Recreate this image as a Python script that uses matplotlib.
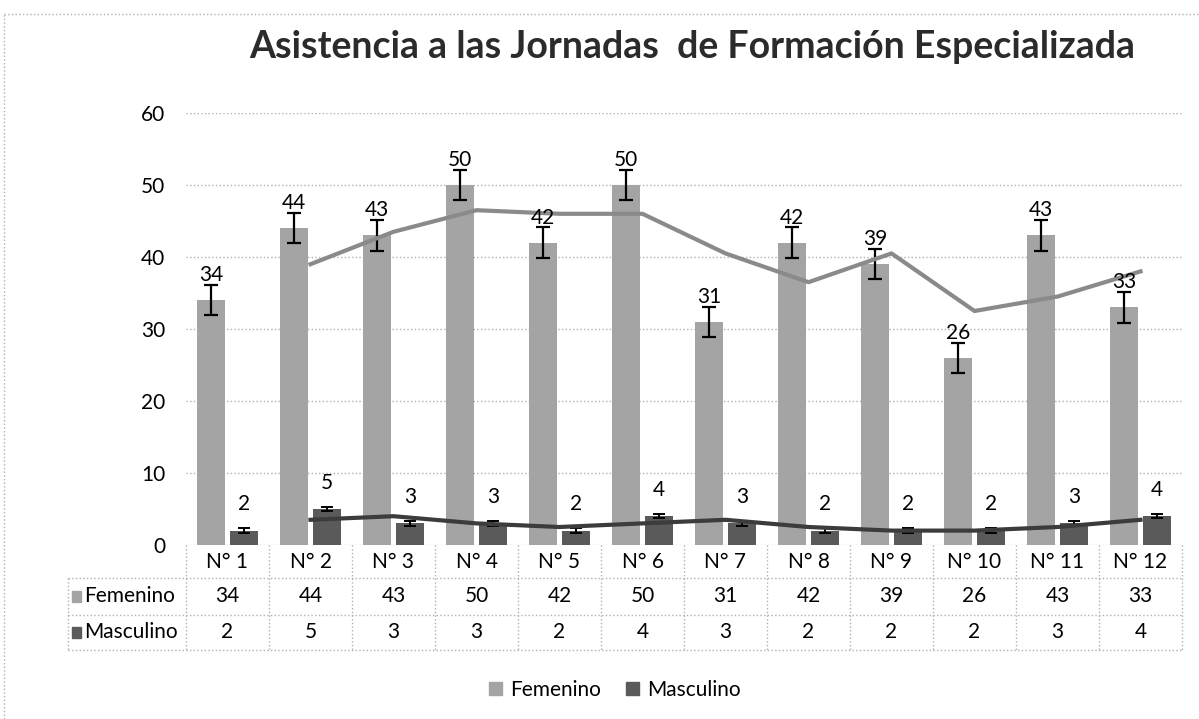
import numpy as np
import pandas as pd
import matplotlib.pyplot as plt
from matplotlib.lines import Line2D
from matplotlib.patches import Patch

plt.rcParams['font.family'] = ['Lato', 'DejaVu Sans']

# Data
jornadas = ['N° 1', 'N° 2', 'N° 3', 'N° 4', 'N° 5', 'N° 6',
            'N° 7', 'N° 8', 'N° 9', 'N° 10', 'N° 11', 'N° 12']
femenino = [34, 44, 43, 50, 42, 50, 31, 42, 39, 26, 43, 33]
masculino = [2, 5, 3, 3, 2, 4, 3, 2, 2, 2, 3, 4]
err_fem = 2.1
err_masc = 0.3

# 2-period moving average trendlines (as in the original spreadsheet)
trend_fem = pd.Series(femenino).rolling(2).mean()
trend_masc = pd.Series(masculino).rolling(2).mean()

col_fem = '#a4a4a4'
col_masc = '#5a5a5a'
grid_col = '#b0b0b0'

W, H = 1199, 719
fig = plt.figure(figsize=(W / 100, H / 100), dpi=100)

# plot area in pixels
ax_l, ax_r, ax_t, ax_b = 186, 1182, 113, 545
ax = fig.add_axes([ax_l / W, 1 - ax_b / H, (ax_r - ax_l) / W, (ax_b - ax_t) / H])

def py(p):
    # pixel row -> axes fraction
    return (ax_b - p) / (ax_b - ax_t)

def px(p):
    return (p - ax_l) / (ax_r - ax_l)

idx = np.arange(len(jornadas))
bw = 0.33
ax.bar(idx - 0.2, femenino, bw, color=col_fem, zorder=2,
       yerr=err_fem, error_kw=dict(ecolor='black', lw=1.6, capsize=5, capthick=1.6))
ax.bar(idx + 0.2, masculino, bw, color=col_masc, zorder=2,
       yerr=err_masc, error_kw=dict(ecolor='black', lw=1.4, capsize=4, capthick=1.4))

ax.plot(idx, trend_fem, color='#8a8a8a', lw=3, zorder=3)
ax.plot(idx, trend_masc, color='#3c3c3c', lw=3, zorder=3)

for x, v in zip(idx, femenino):
    ax.annotate(str(v), (x - 0.2, v), xytext=(0, 18), textcoords='offset points',
                ha='center', va='center', fontsize=15, zorder=4)
for x, v in zip(idx, masculino):
    ax.annotate(str(v), (x + 0.2, v), xytext=(0, 19), textcoords='offset points',
                ha='center', va='center', fontsize=15, zorder=4)

ax.set_xlim(-0.5, len(jornadas) - 0.5)
ax.set_ylim(0, 60)
ax.set_yticks(range(0, 61, 10))
ax.set_xticks([])
ax.tick_params(axis='y', length=0, pad=15, labelsize=15)
ax.yaxis.grid(True, linestyle=':', color=grid_col, lw=1)
ax.set_axisbelow(True)
for s in ax.spines.values():
    s.set_visible(False)

# data table below the plot
trans = ax.get_xaxis_transform()
row_y = [py(578), py(615), py(650)]
line_kw = dict(color=grid_col, lw=1, ls=':', clip_on=False)
for b in np.arange(len(jornadas) + 1) - 0.5:
    ax.plot([b, b], [0, row_y[2]], transform=trans, **line_kw)
ax.plot([px(68), px(68)], [row_y[0], row_y[2]], transform=ax.transAxes, **line_kw)
for y in row_y:
    ax.plot([px(68), 1], [y, y], transform=ax.transAxes, **line_kw)

mid = [(0 + row_y[0]) / 2, (row_y[0] + row_y[1]) / 2, (row_y[1] + row_y[2]) / 2]
for x, lab, f, m in zip(idx, jornadas, femenino, masculino):
    ax.text(x, mid[0], lab, transform=trans, ha='center', va='center', fontsize=15)
    ax.text(x, mid[1], str(f), transform=trans, ha='center', va='center', fontsize=15)
    ax.text(x, mid[2], str(m), transform=trans, ha='center', va='center', fontsize=15)

for y, name, c in [(mid[1], 'Femenino', col_fem), (mid[2], 'Masculino', col_masc)]:
    ax.add_patch(plt.Rectangle((px(72), y - 0.013), 0.009, 0.026, transform=ax.transAxes,
                               color=c, clip_on=False))
    ax.text(px(84), y, name, transform=ax.transAxes, ha='left', va='center', fontsize=15)

fig.text(692 / W, 1 - 47 / H, 'Asistencia a las Jornadas  de Formación Especializada',
         ha='center', va='center', fontsize=27, fontweight='bold', color='#2b2b2b')

handles = [Patch(color=col_fem, label='Femenino'), Patch(color=col_masc, label='Masculino')]
fig.legend(handles=handles, loc='center', bbox_to_anchor=(615 / W, 1 - 690 / H), ncol=2,
           frameon=False, fontsize=15, handlelength=0.6, handleheight=0.6,
           handletextpad=0.4, columnspacing=1.2)

# dotted chart-area border
fig.add_artist(Line2D([4 / W, 4 / W], [0, 1 - 14 / H], color=grid_col, lw=1, ls=':'))
fig.add_artist(Line2D([4 / W, 1], [1 - 14 / H, 1 - 14 / H], color=grid_col, lw=1, ls=':'))

fig.savefig('out.png', dpi=100)
